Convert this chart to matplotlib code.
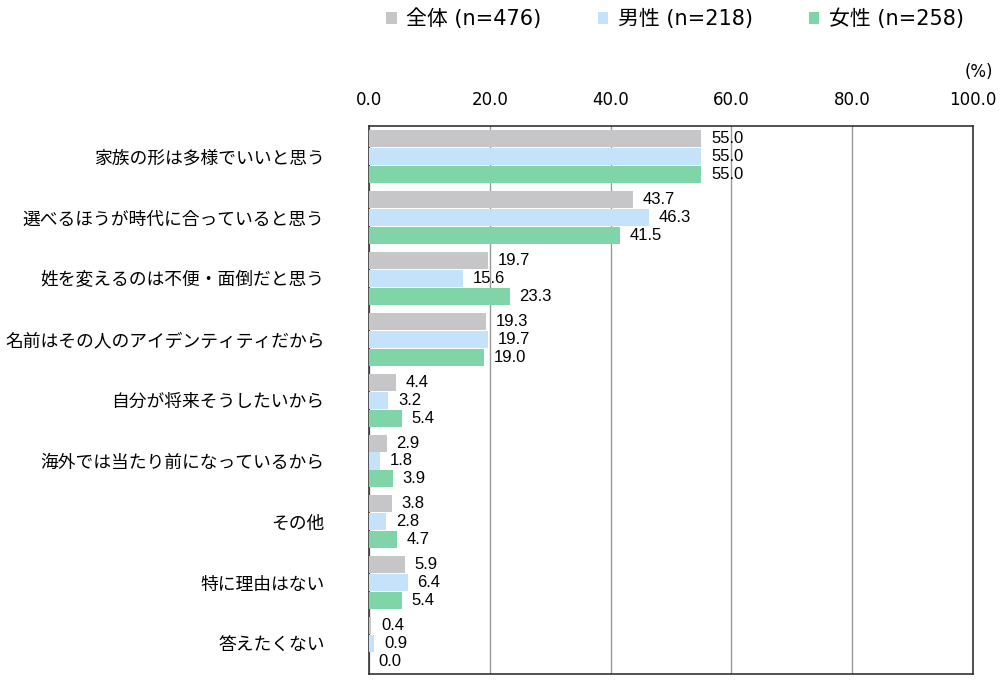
import matplotlib
matplotlib.use("Agg")
import matplotlib.pyplot as plt
import numpy as np

plt.rcParams['font.family'] = ['Noto Sans CJK JP', 'DejaVu Sans']

categories = ['家族の形は多様でいいと思う', '選べるほうが時代に合っていると思う',
              '姓を変えるのは不便・面倒だと思う', '名前はその人のアイデンティティだから',
              '自分が将来そうしたいから', '海外では当たり前になっているから',
              'その他', '特に理由はない', '答えたくない']
series_names = ['全体 (n=476)', '男性 (n=218)', '女性 (n=258)']
total = [55.0, 43.7, 19.7, 19.3, 4.4, 2.9, 3.8, 5.9, 0.4]
male = [55.0, 46.3, 15.6, 19.7, 3.2, 1.8, 2.8, 6.4, 0.9]
female = [55.0, 41.5, 23.3, 19.0, 5.4, 3.9, 4.7, 5.4, 0.0]
colors = ['#c6c6c8', '#c4e2f9', '#7fd5a7']
ticks = [0, 20, 40, 60, 80, 100]

fig = plt.figure(figsize=(10, 6.81), dpi=100)
ax = fig.add_axes([0.369, 0.010, 0.604, 0.805])

y = np.arange(len(categories))
step = 0.295
h = 0.28
for i, (vals, c, name) in enumerate(zip([total, male, female], colors, series_names)):
    pos = y + (i - 1) * step
    ax.barh(pos, vals, height=h, color=c, label=name, zorder=3)
    for p, v in zip(pos, vals):
        ax.annotate(f'{v:.1f}', (v, p), xytext=(7, 0), textcoords='offset points',
                    va='center', ha='left', fontsize=12, family='Liberation Sans')

ax.set_ylim(len(categories) - 0.5, -0.5)
ax.set_xlim(0, 100)
ax.set_xticks(ticks)
ax.set_xticklabels([f'{t:.1f}' for t in ticks], fontsize=12, family='DejaVu Sans')
ax.xaxis.tick_top()
ax.tick_params(axis='x', length=0, pad=12)
ax.set_yticks(y)
ax.set_yticklabels(categories, fontsize=12.8)
ax.tick_params(axis='y', length=0, pad=32)
ax.grid(axis='x', color='#999999', linewidth=1, zorder=0)
for s in ax.spines.values():
    s.set_color('#333333')
    s.set_linewidth(1.2)

fig.text(0.993, 0.894, '(%)', ha='right', va='center', fontsize=12, family='DejaVu Sans')

fig.legend(loc='center', bbox_to_anchor=(0.675, 0.972), ncol=3, frameon=False,
           prop={'family': ['DejaVu Sans', 'Noto Sans CJK JP'], 'size': 15},
           handlelength=0.5, handleheight=0.5, handletextpad=0.45,
           columnspacing=2.7)

fig.savefig('out.png', dpi=100)
